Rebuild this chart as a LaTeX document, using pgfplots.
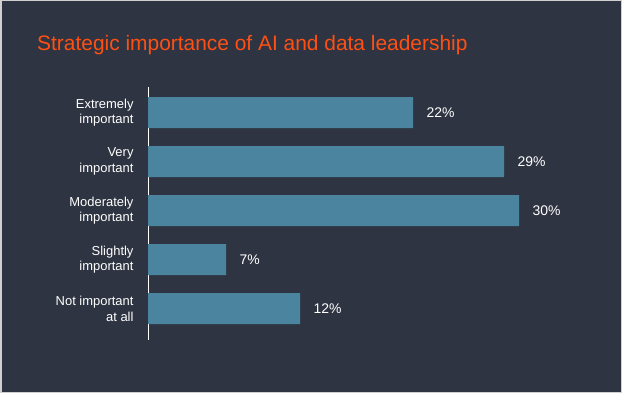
\documentclass[border=0pt]{standalone}
\usepackage{pgfplots}
\pgfplotsset{compat=1.18}
\usepackage{fontspec}
\setmainfont{Liberation Sans}
\definecolor{bg}{HTML}{2E3441}
\definecolor{barc}{HTML}{4A849F}
\definecolor{titleor}{HTML}{FF5014}
\definecolor{bordergray}{HTML}{D0D0D0}
\begin{document}
\begin{tikzpicture}[x=1bp,y=1bp]
\fill[bg] (0,0) rectangle (622,393);
\draw[bordergray, line width=1.5bp] (0.75,0.75) rectangle (621.25,392.25);
\path[use as bounding box] (0,0) rectangle (622,393);
\node[anchor=base west, text=titleor, font=\fontsize{21}{25}\selectfont, inner sep=0] at (37,343) {Strategic importance of AI and data leadership};
\begin{axis}[
  at={(148bp,53bp)}, anchor=south west, scale only axis,
  width=433bp, height=252.8bp,
  xmin=0, xmax=35, ymin=-0.52, ymax=4.64, y dir=reverse,
  xbar, bar width=31bp,
  axis x line=none, axis y line*=left,
  y axis line style={white, line width=0.8bp},
  ytick={0,1,2,3,4}, major tick length=0,
  yticklabels={{Extremely\\important},{Very\\important},{Moderately\\important},{Slightly\\important},{Not important\\at all}},
  yticklabel style={align=right, text=white, font=\fontsize{13}{16}\selectfont, xshift=-11bp},
  nodes near coords={\pgfplotspointmeta\%},
  every node near coord/.append style={anchor=west, text=white, font=\fontsize{14}{16}\selectfont, xshift=10bp},
]
\addplot[fill=barc, draw=none, point meta=explicit symbolic] table[x=v, y=c, meta=l] {
v c l
21.43 0 22
28.79 1 29
30.00 2 30
6.31 3 7
12.29 4 12
};
\end{axis}
\end{tikzpicture}
\end{document}
